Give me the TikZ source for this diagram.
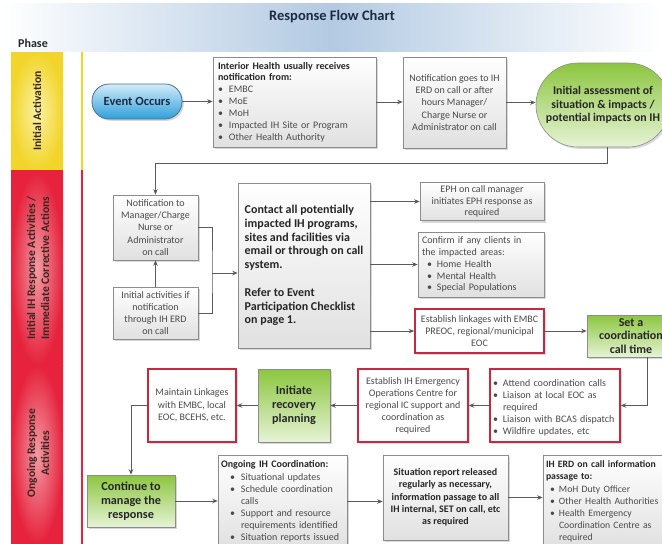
\documentclass[tikz,border=0pt]{standalone}
\usepackage{fontspec}
\setmainfont{Carlito}
\usetikzlibrary{arrows.meta,shadows,calc}
\definecolor{boxline}{HTML}{8C8C8C}
\definecolor{conn}{HTML}{5A5A5A}
\definecolor{txt}{HTML}{4A4A4A}
\definecolor{dark}{HTML}{262626}
\definecolor{redb}{HTML}{C8283E}
\definecolor{grn1}{HTML}{8CC63F}
\definecolor{grn2}{HTML}{E6F3D6}
\definecolor{blu1}{HTML}{D2ECF9}
\definecolor{blu2}{HTML}{2E9FDA}
\definecolor{blu3}{HTML}{4F6F8C}
\definecolor{bandmid}{HTML}{B3CAE2}
\definecolor{titlec}{HTML}{1C2A44}
\definecolor{yel}{HTML}{F2D52A}
\definecolor{yelc}{HTML}{FBF1A6}
\definecolor{redband}{HTML}{E6223C}
\definecolor{redc}{HTML}{F29AA4}
\definecolor{phtxt}{HTML}{3A2620}
\newcommand\bul[3]{\par\leftskip=#1\relax\hangindent=#2\hangafter=1 \makebox[#2][l]{\textbullet}#3\par}
\begin{document}
\begin{tikzpicture}[x=1pt,y=-1pt,
  every node/.style={text=txt},
  base/.style={draw=boxline, line width=0.6pt, drop shadow={shadow xshift=1.8pt,shadow yshift=-1.8pt,opacity=.3}},
  gbox/.style={base, top color=white, bottom color=black!12, font=\fontsize{10}{11.9}\selectfont},
  rbox/.style={base, draw=redb, line width=1.5pt, fill=white, font=\fontsize{10}{12}\selectfont},
  gnbox/.style={base, draw=black!45, top color=grn1, bottom color=grn2, font=\fontsize{12.2}{14}\selectfont\bfseries, text=dark, align=center},
  bpill/.style={base, draw=blu3, line width=0.8pt, top color=blu1, bottom color=blu2, rounded corners=17pt},
  pill/.style={rounded corners=#1},
  sz/.style 2 args={minimum width=#1, minimum height=#2},
  arr/.style={draw=conn, line width=0.8pt, -{Stealth[length=5.5pt,width=4.5pt]}},
  ln/.style={draw=conn, line width=0.8pt},
  phase/.style={rotate=90, font=\fontsize{11.6}{14}\selectfont\bfseries, text=phtxt, align=center}
]
\useasboundingbox (0,0) rectangle (662,544);
\clip (0,0) rectangle (662,544);
\fill[white] (0,0) rectangle (662,544);
% title band
\shade[left color=white, right color=white, middle color=bandmid] (0,3) rectangle (662,51);
\node[font=\fontsize{14.5}{16}\selectfont\bfseries, text=titlec] (title) at (332,17) {Response Flow Chart};
\node[font=\fontsize{12}{14}\selectfont\bfseries, text=dark] (ph) at (33,43) {Phase};
% phase bands
\fill[yel] (11,52) rectangle (63,170);
\shade[inner color=yelc, outer color=yel] (11,52) rectangle (63,170);
\fill[redband] (11,170) rectangle (63,544);
\shade[inner color=redc, outer color=redband] (11,172) rectangle (63,365);
\shade[inner color=redc, outer color=redband] (11,365) rectangle (63,544);
\node[phase] (p1) at (37,111) {Initial Activation};
\node[phase] (p2) at (38,268) {Initial IH Response Activities /\\Immediate Corrective Actions};
\node[phase] (p3) at (38,453) {Ongoing Response\\Activities};
\draw[yel, line width=1.6pt] (82,52) -- (82,170);
\draw[redband, line width=1.6pt] (82,170) -- (82,544);

% row 1
\node[bpill, sz={90pt}{35pt}, font=\fontsize{12.5}{14}\selectfont\bfseries, text=titlec] (ev) at (137,101.5) {Event Occurs};
\node[gbox, sz={163pt}{90pt}, text width=153pt, inner xsep=5pt, align=left] (ih) at (294.5,102)
 {\textbf{\color{dark}Interior Health usually receives\\notification from:}\bul{0pt}{11pt}{EMBC}\bul{0pt}{11pt}{MoE}\bul{0pt}{11pt}{MoH}\bul{0pt}{11pt}{Impacted IH Site or Program}\bul{0pt}{11pt}{Other Health Authority}};
\node[gbox, sz={103pt}{91pt}, align=center, font=\fontsize{10}{12.4}\selectfont] (erd) at (454.5,102.5)
 {Notification goes to IH\\ERD on call or after\\hours Manager/\\Charge Nurse or\\Administrator on call};
\node[gnbox, pill=42pt, sz={134pt}{84pt}, font=\fontsize{11.8}{13.6}\selectfont\bfseries] (as) at (603,105)
 {Initial assessment of\\situation \& impacts /\\potential impacts on IH};

% row 2
\node[gbox, sz={85pt}{65pt}, align=center, font=\fontsize{10}{12.2}\selectfont] (nt) at (155.5,227.5)
 {Notification to\\Manager/Charge\\Nurse or\\Administrator\\on call};
\node[gbox, sz={85pt}{52pt}, align=center, font=\fontsize{10}{12.2}\selectfont] (ia) at (155.5,313)
 {Initial activities if\\notification\\through IH ERD\\on call};
\node[gbox, sz={132pt}{165pt}, align=left, font=\fontsize{12}{13.8}\selectfont\bfseries, text=dark] (ct) at (304,265.5)
 {Contact all potentially\\impacted IH programs,\\sites and facilities via\\email or through on call\\system.\\[13.8pt]Refer to Event\\Participation Checklist\\on page 1.};
\node[gbox, sz={124pt}{37pt}, align=center, font=\fontsize{10}{11.6}\selectfont] (eph) at (482,201.5)
 {EPH on call manager\\initiates EPH response as\\required};
\node[gbox, sz={126pt}{65pt}, text width=118pt, inner xsep=4pt, align=left] (cf) at (481,264.5)
 {Confirm if any clients in\\the impacted areas:\bul{5pt}{10pt}{Home Health}\bul{5pt}{10pt}{Mental Health}\bul{5pt}{10pt}{Special Populations}};
\node[rbox, sz={129pt}{44pt}, align=center] (es) at (479.5,331)
 {Establish linkages with EMBC\\PREOC, regional/municipal\\EOC};
\node[gnbox, sz={88pt}{42pt}, font=\fontsize{12}{13.4}\selectfont\bfseries] (st) at (631,336)
 {Set a\\coordination\\call time};

% row 3
\node[rbox, sz={130pt}{73pt}, text width=124pt, inner xsep=3pt, align=left] (att) at (555,405.5)
 {\bul{0pt}{10pt}{Attend coordination calls}\bul{0pt}{10pt}{Liaison at local EOC as\newline required}\bul{0pt}{10pt}{Liaison with BCAS dispatch}\bul{0pt}{10pt}{Wildfire updates, etc}};
\node[rbox, sz={110pt}{73pt}, align=center] (eoc) at (413,405.5)
 {Establish IH Emergency\\Operations Centre for\\regional IC support and\\coordination as\\required};
\node[gnbox, sz={72pt}{73pt}] (ir) at (294,405.5) {Initiate\\recovery\\planning};
\node[rbox, sz={88pt}{73pt}, align=center, font=\fontsize{10}{12.6}\selectfont] (mt) at (192,405.5)
 {Maintain Linkages\\with EMBC, local\\EOC, BCEHS, etc.};

% row 4
\node[gnbox, sz={88pt}{52pt}] (cm) at (131,501) {Continue to\\manage the\\response};
\node[gbox, sz={129pt}{93pt}, text width=123pt, inner xsep=3pt, align=left, font=\fontsize{10}{12.1}\selectfont] (og) at (282.5,501.5)
 {\textbf{\color{dark}Ongoing IH Coordination:}\bul{9pt}{11pt}{Situational updates}\bul{9pt}{11pt}{Schedule coordination\newline calls}\bul{9pt}{11pt}{Support and resource\newline requirements identified}\bul{9pt}{11pt}{Situation reports issued}};
\node[gbox, sz={125pt}{85pt}, align=center, font=\fontsize{10}{12.3}\selectfont\bfseries, text=dark] (sr) at (445.5,497.5)
 {Situation report released\\regularly as necessary,\\information passage to all\\IH internal, SET on call, etc\\as required};
\node[gbox, sz={137pt}{93pt}, text width=131pt, inner xsep=3pt, align=left, font=\fontsize{9.7}{12.1}\selectfont] (ie) at (611.5,501.5)
 {\textbf{\color{dark}IH ERD on call information\\passage to:}\bul{4pt}{9pt}{MoH Duty Officer}\bul{4pt}{9pt}{Other Health Authorities}\bul{4pt}{9pt}{Health Emergency\newline Coordination Centre as\newline required}};

% connectors
\draw[arr] (ev.east) -- (ev.east -| ih.west);
\draw[arr] (ih.east) -- (ih.east -| erd.west);
\draw[arr] (erd.east) -- (erd.east -| as.west);
\coordinate (t1) at (150,163);
\draw[arr] ([xshift=4pt]as.south) -- ([xshift=4pt]as.south |- t1) -| (nt.north);
\draw[arr] (ia.north) -- (nt.south);
\coordinate (br) at (212,273);
\draw[ln] (nt.east) -| (br) |- (ia.east);
\draw[arr] (br) -- (br -| ct.west);
\draw[arr] (ct.east |- eph) -- (eph.west);
\draw[arr] (ct.east |- cf) -- (cf.west);
\draw[arr] (ct.east |- es) -- (es.west);
\draw[arr] (es.east) -- (es.east -| st.west);
\draw[arr] ([xshift=16pt]st.south) |- (att.east);
\draw[arr] (att.west) -- (eoc.east);
\draw[arr] (eoc.west) -- (ir.east);
\draw[arr] (ir.west) -- (mt.east);
\draw[arr] (mt.west) -| (cm.north);
\draw[arr] (cm.east) -- (cm.east -| og.west);
\draw[arr] (og.east) -- (og.east -| sr.west);
\draw[arr] (sr.east) -- (sr.east -| ie.west);
\end{tikzpicture}
\end{document}
